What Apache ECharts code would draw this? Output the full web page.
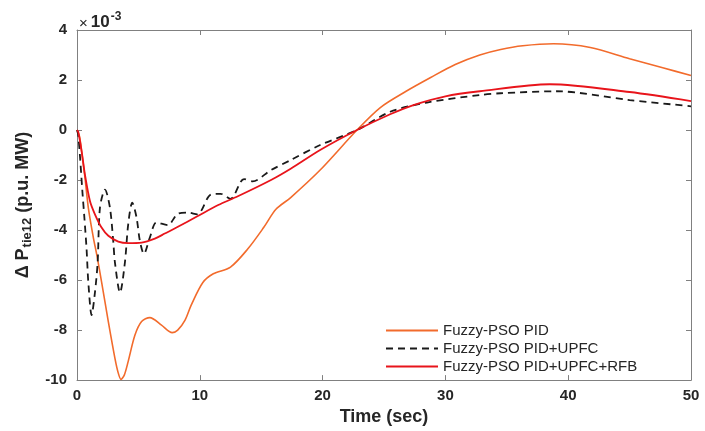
<!DOCTYPE html>
<html>
<head>
<meta charset="utf-8">
<script src="https://cdn.jsdelivr.net/npm/echarts@6/dist/echarts.min.js"></script>
<style>
html,body{margin:0;padding:0;background:#fff;}
#chart{width:705px;height:431px;}
</style>
</head>
<body>
<div id="chart"></div>
<script>
// Tie-line power deviation (x10^-3 p.u. MW) versus time (sec)
const seriesNames = ['Fuzzy-PSO PID', 'Fuzzy-PSO PID+UPFC', 'Fuzzy-PSO PID+UPFC+RFB'];

const tPid = [0, 0.2, 0.38, 0.65, 0.92, 1.33, 1.6, 2.0, 2.55, 3.09, 3.35, 3.58, 3.85, 4.17, 4.72, 5.26, 5.93, 6.88, 7.75, 8.2, 8.8, 9.3, 10.25, 11.1, 12.5, 13.9, 15.2, 16.2, 17.4, 19.8, 22.8, 24.7, 26.8, 28.8, 30.8, 32.8, 34.5, 36.3, 38.8, 41.8, 45, 47.7, 50];
const vPid = [0, -0.25, -0.86, -1.9, -3.1, -4.3, -4.96, -6.07, -7.66, -9.13, -9.7, -9.97, -9.8, -9.25, -8.2, -7.66, -7.5, -7.8, -8.1, -8.0, -7.6, -7.0, -6.1, -5.75, -5.48, -4.76, -3.9, -3.17, -2.7, -1.6, 0, 0.9, 1.55, 2.1, 2.62, 3.0, 3.22, 3.37, 3.45, 3.3, 2.85, 2.49, 2.18];

const tUpfc = [0, 0.1, 0.25, 0.43, 0.6, 0.78, 0.92, 1.19, 1.46, 1.68, 1.87, 2.28, 2.68, 2.95, 3.09, 3.5, 3.9, 4.17, 4.5, 4.85, 5.12, 5.45, 5.93, 6.47, 7.4, 8.2, 9.0, 9.8, 10.9, 11.7, 12.5, 13.6, 14.3, 15.8, 17.4, 19.8, 22.8, 25.5, 28.5, 32.8, 34.5, 39, 45, 50];
const vUpfc = [0, -0.2, -1.1, -2.4, -3.5, -4.76, -6.07, -7.4, -6.5, -5.3, -3.1, -2.38, -3.1, -4.43, -5.3, -6.5, -5.3, -3.77, -2.9, -3.5, -4.43, -4.95, -4.3, -3.7, -3.8, -3.35, -3.3, -3.37, -2.58, -2.55, -2.75, -1.96, -2.05, -1.6, -1.2, -0.6, 0, 0.73, 1.1, 1.4, 1.47, 1.55, 1.2, 0.95];

const tRfb = [0, 0.1, 0.38, 0.65, 1.06, 1.46, 2.0, 2.55, 3.36, 4.17, 5.26, 6.34, 7.15, 8.1, 9.8, 11.5, 13.1, 15.8, 17.4, 19.8, 22.8, 25.5, 27.4, 30, 32.8, 38.5, 45, 50];
const vRfb = [0, -0.07, -0.86, -1.79, -2.85, -3.37, -3.9, -4.23, -4.46, -4.52, -4.5, -4.34, -4.14, -3.9, -3.45, -3.0, -2.65, -2.0, -1.55, -0.8, 0, 0.63, 1.0, 1.35, 1.55, 1.83, 1.52, 1.16];

const xTicks = [0, 10, 20, 30, 40, 50];
const yTicks = [-10, -8, -6, -4, -2, 0, 2, 4];

const pairs = (t, v) => t.map((x, i) => [x, v[i]]);

const textColor = '#262626';
const axisColor = '#808080';
const font = 'Liberation Sans, Arial, sans-serif';

const chart = echarts.init(document.getElementById('chart'), null, {renderer: 'canvas'});

const baseX = {
  type: 'value', min: xTicks[0], max: xTicks[xTicks.length - 1], interval: 10,
  axisLine: {show: true, onZero: false, lineStyle: {color: axisColor, width: 1}},
  axisTick: {show: true, inside: true, length: 5, lineStyle: {color: axisColor}},
  splitLine: {show: false}
};
const baseY = {
  type: 'value', min: yTicks[0], max: yTicks[yTicks.length - 1], interval: 2,
  axisLine: {show: true, onZero: false, lineStyle: {color: axisColor, width: 1}},
  axisTick: {show: true, inside: true, length: 5, lineStyle: {color: axisColor}},
  splitLine: {show: false}
};

chart.setOption({
  animation: false,
  backgroundColor: '#ffffff',
  grid: {left: 77, right: 14, top: 30, bottom: 49},
  xAxis: [
    Object.assign({}, baseX, {
      position: 'bottom',
      name: 'Time (sec)', nameLocation: 'middle', nameGap: 25,
      nameTextStyle: {color: textColor, fontSize: 18, fontWeight: 'bold', fontFamily: font},
      axisLabel: {color: textColor, fontSize: 15, fontWeight: 'bold', fontFamily: font, margin: 8}
    }),
    Object.assign({}, baseX, {position: 'top', axisLabel: {show: false}})
  ],
  yAxis: [
    Object.assign({}, baseY, {
      position: 'left',
      name: '{a|Δ P}{s|tie12}{a| (p.u. MW)}', nameLocation: 'middle', nameGap: 41, nameRotate: 90,
      nameTextStyle: {
        color: textColor, fontSize: 18, fontWeight: 'bold', fontFamily: font,
        rich: {
          a: {fontSize: 18, fontWeight: 'bold', fontFamily: font, color: textColor},
          s: {fontSize: 13, fontWeight: 'bold', fontFamily: font, color: textColor, verticalAlign: 'bottom', padding: [9, 0, 0, 1]}
        }
      },
      axisLabel: {color: textColor, fontSize: 15, fontWeight: 'bold', fontFamily: font, margin: 10}
    }),
    Object.assign({}, baseY, {position: 'right', axisLabel: {show: false}})
  ],
  legend: {
    orient: 'vertical', left: 380, top: 318,
    itemWidth: 52, itemHeight: 12, itemGap: 3,
    itemStyle: {opacity: 0},
    textStyle: {color: textColor, fontSize: 15, fontFamily: font, padding: [0, 0, 0, 0]},
    data: seriesNames
  },
  graphic: [{
    type: 'text', left: 79, top: 11,
    style: {
      text: '{x|×}{m|10}{e|-3}',
      rich: {
        x: {fontSize: 15, fontFamily: font, fill: textColor, verticalAlign: 'bottom', padding: [0, 3, 0, 0]},
        m: {fontSize: 17, fontFamily: font, fill: textColor, fontWeight: 'bold', verticalAlign: 'bottom'},
        e: {fontSize: 12, fontFamily: font, fill: textColor, fontWeight: 'bold', verticalAlign: 'top', padding: [0, 0, 8, 1]}
      }
    }
  }],
  series: [
    {
      name: seriesNames[0], type: 'line', data: pairs(tPid, vPid),
      showSymbol: false, symbol: 'none', smooth: 0.3,
      lineStyle: {color: '#f26b2c', width: 1.6}, itemStyle: {color: '#f26b2c'}, z: 2
    },
    {
      name: seriesNames[1], type: 'line', data: pairs(tUpfc, vUpfc),
      showSymbol: false, symbol: 'none', smooth: 0.3,
      lineStyle: {color: '#1a1a1a', width: 1.8, type: [7, 5]}, itemStyle: {color: '#1a1a1a'}, z: 3
    },
    {
      name: seriesNames[2], type: 'line', data: pairs(tRfb, vRfb),
      showSymbol: false, symbol: 'none', smooth: 0.3,
      lineStyle: {color: '#e8141b', width: 1.8}, itemStyle: {color: '#e8141b'}, z: 4
    }
  ]
});
</script>
</body>
</html>
